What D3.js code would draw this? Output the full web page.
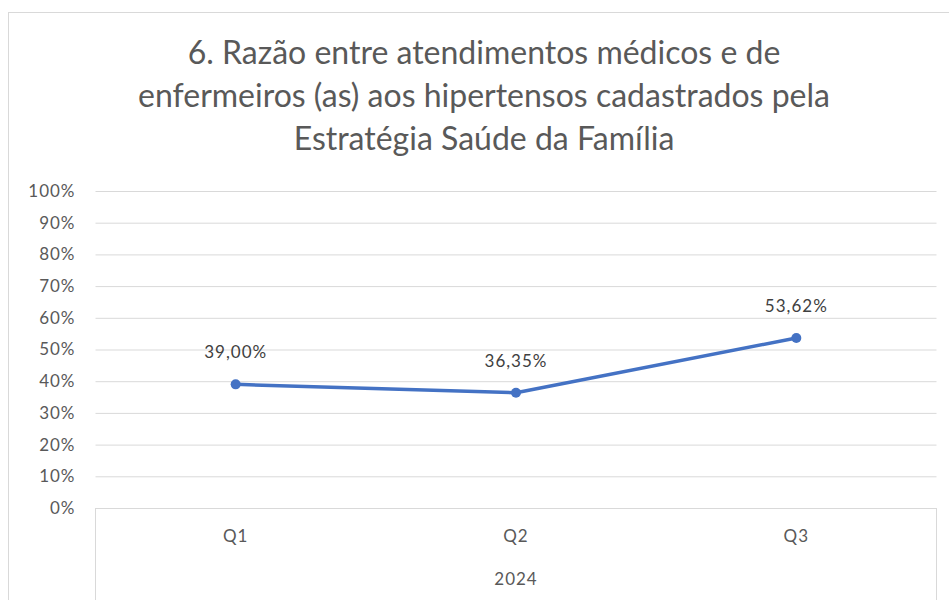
<!DOCTYPE html>
<html>
<head>
<meta charset="utf-8">
<script src="https://cdn.jsdelivr.net/npm/d3@7"></script>
<style>
  body { margin: 0; background: #fff; }
  text { font-family: Lato, "Open Sans", sans-serif; }
</style>
</head>
<body>
<div id="chart"></div>
<script>
const titleLines = ['6. Razão entre atendimentos médicos e de', 'enfermeiros (as) aos hipertensos cadastrados pela', 'Estratégia Saúde da Família'];
const quarters = ['Q1', 'Q2', 'Q3'];
const year = '2024';
const values = [0.39, 0.3635, 0.5362];
const valueLabels = ['39,00%', '36,35%', '53,62%'];
const yTicks = [0, 0.1, 0.2, 0.3, 0.4, 0.5, 0.6, 0.7, 0.8, 0.9, 1];

const W = 949, H = 600;
const svg = d3.select('#chart').append('svg')
    .attr('width', W)
    .attr('height', H);

// chart border
svg.append('rect')
    .attr('x', 8.5).attr('y', 12.5)
    .attr('width', W + 20).attr('height', H + 20)
    .attr('fill', '#fff')
    .attr('stroke', '#d9d9d9');

// title
svg.append('g').selectAll('text')
    .data(titleLines)
    .join('text')
    .attr('x', 484)
    .attr('y', (d, i) => 64 + i * 43)
    .attr('text-anchor', 'middle')
    .attr('fill', '#595959')
    .style('font-size', '32px')
    .text(d => d);

const x0 = 95.5, x1 = 936.5;
const y = d3.scaleLinear().domain([0, 1]).range([508, 191]);
const x = d3.scaleBand().domain(quarters).range([x0, x1]);

// gridlines + y labels
const yAxis = svg.append('g')
    .attr('transform', `translate(${x0},0)`)
    .call(d3.axisLeft(y).tickValues(yTicks).tickSize(-(x1 - x0)).tickFormat(d3.format('.0%')));
yAxis.select('.domain').remove();
yAxis.selectAll('.tick line').attr('stroke', '#d9d9d9');
yAxis.selectAll('.tick text')
    .attr('x', -20)
    .attr('fill', '#595959')
    .style('font-size', '17px')
    .style('letter-spacing', '1px');

// category axis (multi-level)
const axisG = svg.append('g');
axisG.append('line')
    .attr('x1', x0).attr('x2', x1)
    .attr('y1', Math.round(y(0)) + 0.5).attr('y2', Math.round(y(0)) + 0.5)
    .attr('stroke', '#d9d9d9');
[x0, x1].forEach(xx => {
    axisG.append('line')
        .attr('x1', xx).attr('x2', xx)
        .attr('y1', y(0)).attr('y2', H)
        .attr('stroke', '#d9d9d9');
});
axisG.selectAll('.qlabel')
    .data(quarters)
    .join('text')
    .attr('class', 'qlabel')
    .attr('x', d => x(d) + x.bandwidth() / 2)
    .attr('y', 542)
    .attr('text-anchor', 'middle')
    .attr('fill', '#595959')
    .style('font-size', '17px')
    .style('letter-spacing', '1px')
    .text(d => d);
axisG.append('text')
    .attr('x', (x0 + x1) / 2)
    .attr('y', 585)
    .attr('text-anchor', 'middle')
    .attr('fill', '#595959')
    .style('font-size', '17px')
    .style('letter-spacing', '1px')
    .text(year);

// line
const pts = quarters.map((q, i) => ({q, v: values[i], label: valueLabels[i]}));
const line = d3.line()
    .x(d => x(d.q) + x.bandwidth() / 2)
    .y(d => y(d.v));
svg.append('path')
    .datum(pts)
    .attr('d', line)
    .attr('fill', 'none')
    .attr('stroke', '#4472C4')
    .attr('stroke-width', 3.5)
    .attr('stroke-linejoin', 'round');
svg.selectAll('.dot')
    .data(pts)
    .join('circle')
    .attr('class', 'dot')
    .attr('cx', d => x(d.q) + x.bandwidth() / 2)
    .attr('cy', d => y(d.v))
    .attr('r', 5)
    .attr('fill', '#4472C4');

// data labels
svg.selectAll('.dlabel')
    .data(pts)
    .join('text')
    .attr('class', 'dlabel')
    .attr('x', d => x(d.q) + x.bandwidth() / 2)
    .attr('y', d => y(d.v) - 26)
    .attr('text-anchor', 'middle')
    .attr('fill', '#404040')
    .style('font-size', '17px')
    .style('letter-spacing', '1px')
    .text(d => d.label);
</script>
</body>
</html>
